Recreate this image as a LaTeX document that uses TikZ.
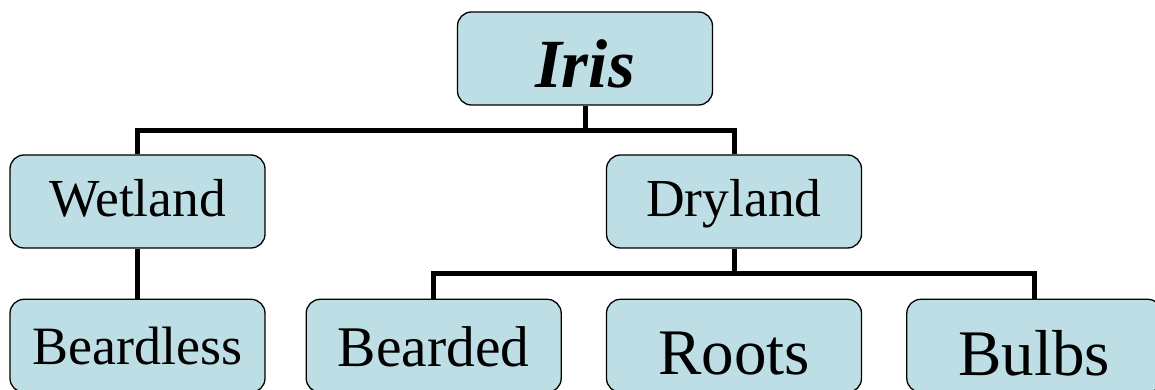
\documentclass[tikz,border=0pt]{standalone}
\usepackage{fontspec}
\setmainfont{Liberation Serif}
\usetikzlibrary{positioning}
\definecolor{irisblue}{HTML}{BDDEE4}

\begin{document}
\begin{tikzpicture}[x=1pt, y=-1pt,
        node distance=50pt and 44pt,
        box/.style={draw=black, line width=1.3pt, fill=irisblue, rounded corners=14pt,
            minimum width=255pt, minimum height=93pt, inner sep=0pt,
            text depth=0pt, text height=#1},
        box/.default=30pt,
        branch/.style={line width=5pt}]
            \useasboundingbox (0,0) rectangle (1155,390);
            \node [box=59pt, font=\fontsize{69}{80}\selectfont\bfseries\itshape] (iris) at (585,58.5) {Iris};
            \node [box=30.4pt, font=\fontsize{53.5}{64}\selectfont] (wet) at (137.5,201.5) {Wetland};
            \node [box=30.4pt, font=\fontsize{53.5}{64}\selectfont] (dry) at (734,201.5) {Dryland};
            \node [box=37.6pt, font=\fontsize{54}{64}\selectfont, below =of wet] (beardless) {Beardless};
            \node [box=58pt, font=\fontsize{65}{74}\selectfont, below =of dry] (roots) {Roots};
            \node [box=41pt, font=\fontsize{57.5}{66}\selectfont, left =of roots] (bearded) {Bearded};
            \node [box=60pt, font=\fontsize{65}{74}\selectfont, right =of roots] (bulbs) {Bulbs};
            % branches
            \draw [branch] (iris.south) -- ++(0,25) coordinate (iris split);
            \draw [branch] (wet.north) |- (iris split) -| (dry.north);
            \draw [branch] (wet.south) -- (beardless.north);
            \draw [branch] (dry.south) -- ++(0,25) coordinate (dry split);
            \draw [branch] (bearded.north) |- (dry split) -| (bulbs.north);
\end{tikzpicture}
\end{document}
